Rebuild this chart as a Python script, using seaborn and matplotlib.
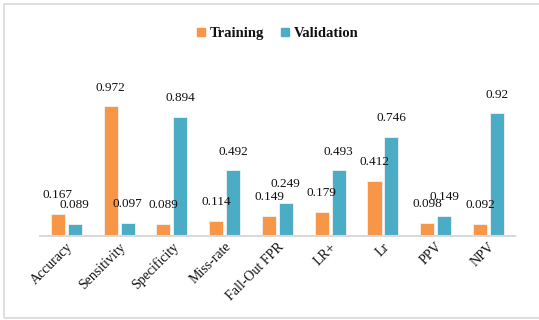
import matplotlib
matplotlib.use("Agg")
import matplotlib.pyplot as plt
import matplotlib.patches as mpatches
import seaborn as sns
import pandas as pd

metrics = ["Accuracy", "Sensitivity", "Specificity", "Miss-rate", "Fall-Out FPR",
           "LR+", "Lr", "PPV", "NPV"]
training = [0.167, 0.972, 0.089, 0.114, 0.149, 0.179, 0.412, 0.098, 0.092]
validation = [0.089, 0.097, 0.894, 0.492, 0.249, 0.493, 0.746, 0.149, 0.92]
series = ["Training", "Validation"]
colors = ["#F79646", "#4BACC6"]

df = pd.DataFrame({
    "metric": metrics * 2,
    "value": training + validation,
    "set": [series[0]] * len(metrics) + [series[1]] * len(metrics),
})

sns.set_theme(style="white")
plt.rcParams["font.family"] = ["Liberation Serif", "DejaVu Serif"]

fig = plt.figure(figsize=(5.39, 3.2), dpi=100)
ax = fig.add_axes([0.0742, 0.2625, 0.881, 0.4375])

sns.barplot(data=df, x="metric", y="value", hue="set", order=metrics,
            hue_order=series, palette=colors, saturation=1, width=0.64, gap=0.17,
            edgecolor="#F2F2F2", linewidth=0.6, ax=ax, legend=False)

# value labels above each bar
for cont in ax.containers:
    for bar in cont:
        h = bar.get_height()
        ax.annotate(f"{h:g}", (bar.get_x() + bar.get_width() / 2, h),
                    xytext=(0, 13.5), textcoords="offset points",
                    ha="center", va="center", fontsize=9.5, color="#111111",
                    annotation_clip=False)

ax.set_xlim(-0.5, len(metrics) - 0.5)
ax.set_ylim(0, 1.05)
ax.set_xlabel("")
ax.set_ylabel("")
ax.set_yticks([])
for side in ["top", "right", "left"]:
    ax.spines[side].set_visible(False)
ax.spines["bottom"].set_color("#D9D9D9")
ax.spines["bottom"].set_linewidth(1.5)
ax.tick_params(axis="x", length=0, pad=3)
plt.setp(ax.get_xticklabels(), rotation=45, ha="right", rotation_mode="anchor",
         fontsize=10, color="#111111")

handles = [mpatches.Patch(color=c, label=s) for c, s in zip(colors, series)]
fig.legend(handles=handles, loc="center", bbox_to_anchor=(0.515, 0.895), ncol=2,
           frameon=False, prop={"weight": "bold", "size": 10.5},
           handlelength=0.55, handleheight=0.55, handletextpad=0.3,
           columnspacing=1.2, labelcolor="#111111")

# chart frame
fig.patches.append(mpatches.Rectangle((4 / 539, 2 / 320), 1.0, 314 / 320,
                                      transform=fig.transFigure, fill=False,
                                      edgecolor="#D9D9D9", linewidth=1.2))

fig.savefig("out.png", dpi=100, facecolor="white")
